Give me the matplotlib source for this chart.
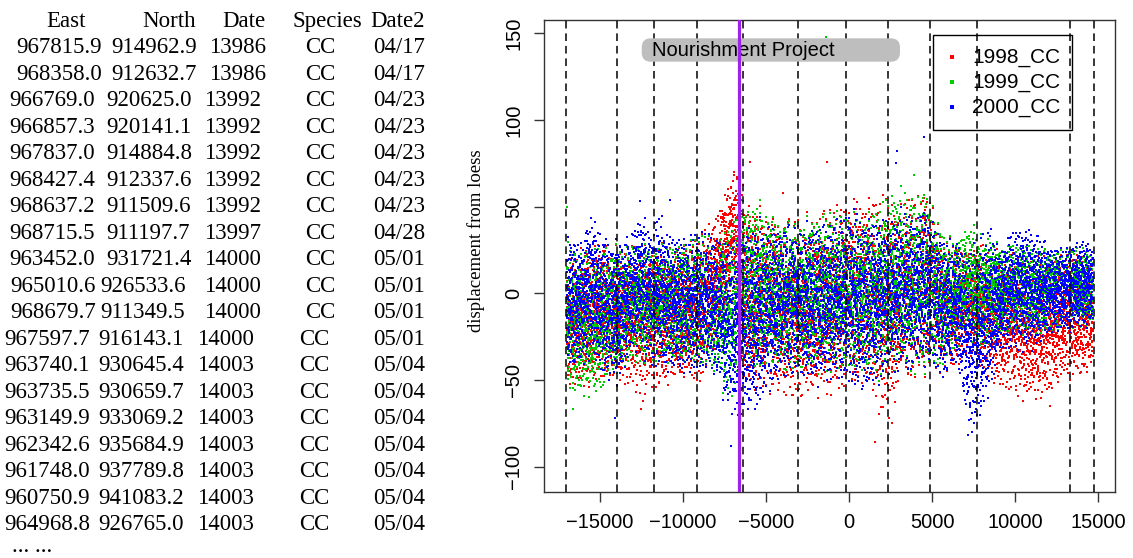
import numpy as np
import matplotlib.pyplot as plt
from matplotlib.patches import FancyBboxPatch, Rectangle

# ---- table on the left ----
header = ["East", "North", "Date", "Species", "Date2"]
east = ["967815.9", "968358.0", "966769.0", "966857.3", "967837.0", "968427.4",
        "968637.2", "968715.5", "963452.0", "965010.6", "968679.7", "967597.7",
        "963740.1", "963735.5", "963149.9", "962342.6", "961748.0", "960750.9",
        "964968.8"]
north = ["914962.9", "912632.7", "920625.0", "920141.1", "914884.8", "912337.6",
         "911509.6", "911197.7", "931721.4", "926533.6", "911349.5", "916143.1",
         "930645.4", "930659.7", "933069.2", "935684.9", "937789.8", "941083.2",
         "926765.0"]
date = ["13986", "13986", "13992", "13992", "13992", "13992", "13992", "13997",
        "14000", "14000", "14000", "14000", "14003", "14003", "14003", "14003",
        "14003", "14003", "14003"]
species = ["CC"] * 19
date2 = ["04/17", "04/17", "04/23", "04/23", "04/23", "04/23", "04/23", "04/28",
         "05/01", "05/01", "05/01", "05/01", "05/04", "05/04", "05/04", "05/04",
         "05/04", "05/04", "05/04"]

# ---- displacement clouds: envelope of each year along the shore ----
x_knots = [-17000, -16000, -15500, -15000, -14000, -13000, -12500, -12000, -11400,
           -11000, -10000, -9000, -8000, -7500, -7000, -6600, -6300, -5500, -5000,
           -4000, -3000, -2000, -1000, 0, 1000, 2000, 2600, 3000, 4000, 4500, 5000,
           5800, 6500, 7000, 7500, 8000, 8500, 9000, 10000, 11000, 12000, 13000,
           14000, 14700]

red_hi = [32, 30, 30, 32, 30, 32, 30, 30, 30, 32, 32, 35, 48, 60, 72, 74, 62, 52,
          50, 48, 46, 50, 55, 55, 60, 62, 58, 52, 62, 66, 55, 35, 32, 30, 30, 30,
          28, 28, 28, 26, 26, 26, 24, 24]
red_lo = [-58, -58, -58, -52, -55, -58, -62, -58, -58, -55, -52, -56, -32, -15, -5,
          -22, -62, -62, -62, -62, -66, -62, -62, -58, -58, -74, -76, -52, -52, -52,
          -48, -52, -46, -42, -42, -48, -52, -58, -62, -66, -62, -52, -50, -46]

green_hi = [32, 30, 28, 30, 30, 30, 30, 30, 30, 30, 32, 35, 36, 40, 46, 52, 60, 56,
            52, 46, 44, 48, 52, 48, 50, 56, 62, 64, 60, 68, 56, 34, 34, 40, 40, 36,
            36, 30, 30, 30, 26, 28, 28, 28]
green_lo = [-60, -64, -64, -60, -48, -42, -42, -42, -42, -42, -42, -45, -48, -62,
            -62, -52, -48, -48, -48, -48, -48, -48, -48, -48, -50, -52, -48, -48,
            -50, -50, -48, -42, -36, -26, -30, -36, -30, -26, -24, -26, -24, -24,
            -22, -22]

blue_hi = [34, 36, 50, 36, 33, 38, 50, 40, 50, 39, 36, 38, 36, 34, 36, 36, 46, 46,
           42, 44, 42, 44, 44, 52, 48, 46, 46, 52, 46, 56, 46, 32, 34, 30, 30, 36,
           44, 28, 40, 40, 30, 28, 32, 32]
blue_lo = [-45, -45, -42, -47, -56, -35, -38, -45, -47, -47, -50, -47, -50, -66,
           -74, -74, -78, -72, -62, -52, -50, -56, -52, -58, -62, -52, -47, -50,
           -47, -45, -47, -52, -42, -74, -84, -74, -62, -36, -36, -34, -26, -24,
           -22, -22]

# scattered points outside the main band
red_out_x = [-5990, -1300, -3970, -12500, -12400, 12100, 1570, 2610, -6900, -6750]
red_out_y = [76, 76, 58, -67, -62, -65, -86, -75, 70, 66]
green_out_x = [-1400, -17000, -16600, 3900]
green_out_y = [148, 50, -67, 68]
blue_out_x = [4500, 2870, 2830, -10780, -12590, -14100, 7190, -7100]
blue_out_y = [90, 82, 75, 54, 53, -72, -82, -88]

marks = [-17050, -13960, -11750, -9140, -6370, -3050, -180, 2330, 4880, 7690,
         13310, 14760]
project_x = -6630
years = ["1998_CC", "1999_CC", "2000_CC"]
colors = ["#FF0000", "#00CD00", "#0000FF"]
counts = [8500, 8000, 9000]


def halton(n, base, skip=0):
    out = np.empty(n)
    for i in range(n):
        k = i + 1 + skip
        f, r = 1.0, 0.0
        while k > 0:
            f /= base
            r += f * (k % base)
            k //= base
        out[i] = r
    return out


def band_points(hi, lo, n, skip):
    xs = x_knots[0] + (x_knots[-1] - x_knots[0]) * halton(n, 2, skip)
    t = (halton(n, 3, skip) + halton(n, 5, skip)) / 2
    top = np.interp(xs, x_knots, hi)
    bot = np.interp(xs, x_knots, lo)
    return xs, bot + (top - bot) * t


fig = plt.figure(figsize=(11.33, 5.58), dpi=100)
W, H = 1133, 558

# table text
serif = "Liberation Serif"
head_x = [46, 142, 222, 292, 370]
col_x = {0: [16, 111, 209, 305, 373], 1: [9, 106, 204, 305, 373],
         2: [10, 100, 204, 305, 373], 3: [4, 98, 197, 299, 373]}
row_group = [0, 0, 1, 1, 1, 1, 1, 1, 1, 2, 2, 3, 3, 3, 3, 3, 3, 3, 3]
for hx, h in zip(head_x, header):
    fig.text(hx / W, 1 - 26.7 / H, h, family=serif, fontsize=16.5, va="baseline")
for i in range(len(east)):
    base = 53.3 + i * 26.5
    cells = [east[i], north[i], date[i], species[i], date2[i]]
    for cx, cell in zip(col_x[row_group[i]], cells):
        fig.text(cx / W, 1 - base / H, cell, family=serif, fontsize=16.5,
                 va="baseline")
fig.text(12 / W, 1 - 552 / H, "... ...", family=serif, fontsize=16.5,
         va="baseline")

# scatter panel
ax = fig.add_axes([543.5 / W, 1 - 491.7 / H, 571 / W, 471.7 / H])
series = [(red_hi, red_lo, red_out_x, red_out_y),
          (green_hi, green_lo, green_out_x, green_out_y),
          (blue_hi, blue_lo, blue_out_x, blue_out_y)]
for k, ((hi, lo, ox, oy), c, n) in enumerate(zip(series, colors, counts)):
    xs, ys = band_points(hi, lo, n, skip=137 * (k + 1))
    ax.scatter(np.r_[xs, ox], np.r_[ys, oy], s=4.2, marker="s", c=c,
               linewidths=0, zorder=2)

ax.set_xlim(-18400, 15990)
ax.set_ylim(-114.5, 157.7)
ax.set_xticks(np.arange(-15000, 15001, 5000))
ax.set_yticks(np.arange(-100, 151, 50))
ax.tick_params(direction="out", length=7.5, width=1, labelsize=14.5,
               colors="#333333", labelcolor="black")
ax.tick_params(axis="x", pad=8)
ax.tick_params(axis="y", pad=7, labelrotation=90)
for lab in ax.get_xticklabels() + ax.get_yticklabels():
    lab.set_family("Liberation Sans")
for lab in ax.get_yticklabels():
    lab.set_va("center")
for sp in ax.spines.values():
    sp.set_linewidth(1)
    sp.set_color("#333333")

fig.text(476 / W, 1 - 241 / H, "displacement from loess", family=serif,
         fontsize=13.5, rotation=90, ha="center", va="center")

# legend box
ax.add_patch(Rectangle((0.682, 0.7668), 0.2436, 0.2012, transform=ax.transAxes,
                       fc="white", ec="black", lw=1, zorder=3))
for j, (yr, c) in enumerate(zip(years, colors)):
    ry = 0.9215 - j * 0.053
    ax.plot([0.7154], [ry], marker="s", ms=2.3, color=c, mew=0,
            transform=ax.transAxes, zorder=4)
    ax.text(0.7504, ry, yr, transform=ax.transAxes, fontsize=15,
            family="Liberation Sans", va="center", ha="left", zorder=4)

# section boundaries
for m in marks:
    ax.axvline(m, color="black", lw=1.1, ls=(0, (5, 3.2)), zorder=5)

# project label
ax.add_patch(FancyBboxPatch((0.172, 0.9116), 0.4523, 0.0496,
                            boxstyle="round,pad=0,rounding_size=0.016",
                            mutation_aspect=571 / 471.7, transform=ax.transAxes,
                            fc="#BEBEBE", ec="none", zorder=6))
ax.text(0.1895, 0.9364, "Nourishment Project", transform=ax.transAxes,
        fontsize=14.5, family="Liberation Sans", va="center", ha="left",
        zorder=7)

ax.axvline(project_x, color="#A020F0", lw=2.3, zorder=8)

fig.savefig("out.png", dpi=100)
